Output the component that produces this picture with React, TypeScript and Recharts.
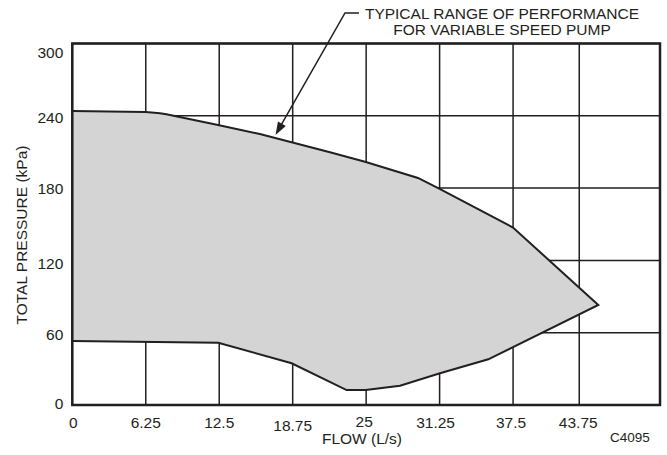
import React from 'react';
import { ComposedChart, Area, XAxis, YAxis, CartesianGrid, ReferenceArea } from 'recharts';

// Upper boundary of the performance range (flow L/s, pressure kPa), left to right
const upperFlow = [0, 6.25, 7.46, 8.0, 12.4, 15.96, 21.92, 24.9, 29.41, 31.25, 37.49, 44.75];
const upperPressure = [244, 243.2, 242.1, 241.2, 232.4, 224.9, 209.7, 201.9, 188.4, 179.3, 147.3, 83];
// Lower boundary, right to left
const lowerFlow = [35.39, 31.28, 27.88, 24.96, 23.34, 18.66, 12.42, 0];
const lowerPressure = [37.9, 26.3, 16, 12.4, 12.4, 34.6, 51.7, 53.1];

const xTickValues = [0, 6.25, 12.5, 18.75, 25, 31.25, 37.5, 43.13];
const xTickLabels = ['0', '6.25', '12.5', '18.75', '25', '31.25', '37.5', '43.75'];
const yTickValues = [0, 60, 120, 180, 240, 300];
const yTickLabels = ['0', '60', '120', '180', '240', '300'];

const polygon = [
  ...upperFlow.map((f, i) => ({ flow: f, pressure: upperPressure[i] })),
  ...lowerFlow.map((f, i) => ({ flow: f, pressure: lowerPressure[i] })),
];

const INK = '#231f20';
const FONT = '"Liberation Sans", Arial, Helvetica, sans-serif';

const XTick = (props: any) => {
  const { x, y, payload } = props;
  const i = xTickValues.indexOf(payload.value);
  const nudge: Record<number, [number, number]> = {
    0: [1, 0], 1: [0, 0], 2: [0, 0], 3: [0, 2.5], 4: [-2, -1.5], 5: [-4, 0], 6: [-2, 0], 7: [-1, 0],
  };
  const n = nudge[i] || [0, 0];
  return (
    <text x={x + n[0]} y={y + 23 + n[1]} textAnchor="middle" fontSize={15.5} fontFamily={FONT} fill={INK}>
      {xTickLabels[i]}
    </text>
  );
};

const YTick = (props: any) => {
  const { x, y, payload } = props;
  const i = yTickValues.indexOf(payload.value);
  const nudge: Record<number, number> = { 0: -2, 1: 2, 2: 3, 3: 0, 4: 1.5, 5: 8.5 };
  return (
    <text x={x - 9} y={y + 5.5 + (nudge[i] || 0)} textAnchor="end" fontSize={15.5} fontFamily={FONT} fill={INK}>
      {yTickLabels[i]}
    </text>
  );
};

export default function App() {
  const dx = 276 - 345;
  const dy = 135 - 13;
  const len = Math.sqrt(dx * dx + dy * dy);
  const ux = dx / len;
  const uy = dy / len;
  const tip = [275.5, 135];
  const headL = 13;
  const headW = 4.5;
  const bx = tip[0] - ux * headL;
  const by = tip[1] - uy * headL;
  const px = -uy * headW;
  const py = ux * headW;
  return (
    <div style={{ position: 'absolute', left: 0, top: 0, width: 667, height: 455, background: '#fff' }}>
      <ComposedChart
        width={667}
        height={455}
        data={polygon}
        margin={{ top: 43.5, right: 7, bottom: 0, left: 0 }}
      >
        <CartesianGrid stroke={INK} strokeWidth={1.5} />
        <XAxis
          type="number"
          dataKey="flow"
          domain={[0, 50]}
          ticks={xTickValues}
          allowDataOverflow
          tickLine={false}
          axisLine={false}
          tickSize={0}
          tickMargin={0}
          height={50}
          tick={<XTick />}
          interval={0}
        />
        <YAxis
          type="number"
          dataKey="pressure"
          domain={[0, 300]}
          ticks={yTickValues}
          allowDataOverflow
          tickLine={false}
          axisLine={false}
          tickSize={0}
          tickMargin={0}
          width={72.3}
          tick={<YTick />}
          interval={0}
        />
        <Area
          type="linear"
          dataKey="pressure"
          stroke={INK}
          strokeWidth={2}
          fill="#d4d4d4"
          fillOpacity={1}
          dot={false}
          activeDot={false}
          isAnimationActive={false}
          baseValue={0}
        />
        <ReferenceArea x1={0} x2={50} y1={0} y2={300} fill="none" fillOpacity={0} stroke={INK} strokeWidth={2.5} />
      </ComposedChart>
      <svg width={667} height={455} style={{ position: 'absolute', left: 0, top: 0, pointerEvents: 'none' }}>
        <text x={502} y={18.5} textAnchor="middle" fontSize={15.5} fontFamily={FONT} fill={INK}>
          TYPICAL RANGE OF PERFORMANCE
        </text>
        <text x={502} y={34.5} textAnchor="middle" fontSize={15.5} fontFamily={FONT} fill={INK}>
          FOR VARIABLE SPEED PUMP
        </text>
        <polyline
          points={`359,13 345,13 ${bx + ux * 2},${by + uy * 2}`}
          fill="none"
          stroke={INK}
          strokeWidth={1.5}
        />
        <polygon
          points={`${tip[0]},${tip[1]} ${bx + px},${by + py} ${bx - px},${by - py}`}
          fill={INK}
        />
        <text
          x={21.5}
          y={235}
          transform="rotate(-90 21.5 235)"
          textAnchor="middle"
          dominantBaseline="central"
          fontSize={15.5}
          fontFamily={FONT}
          fill={INK}
        >
          TOTAL PRESSURE (kPa)
        </text>
        <text x={362} y={443.5} textAnchor="middle" fontSize={15.5} fontFamily={FONT} fill={INK}>
          FLOW (L/s)
        </text>
        <text x={630} y={441.5} textAnchor="middle" fontSize={13.5} fontFamily={FONT} fill={INK}>
          C4095
        </text>
      </svg>
    </div>
  );
}
